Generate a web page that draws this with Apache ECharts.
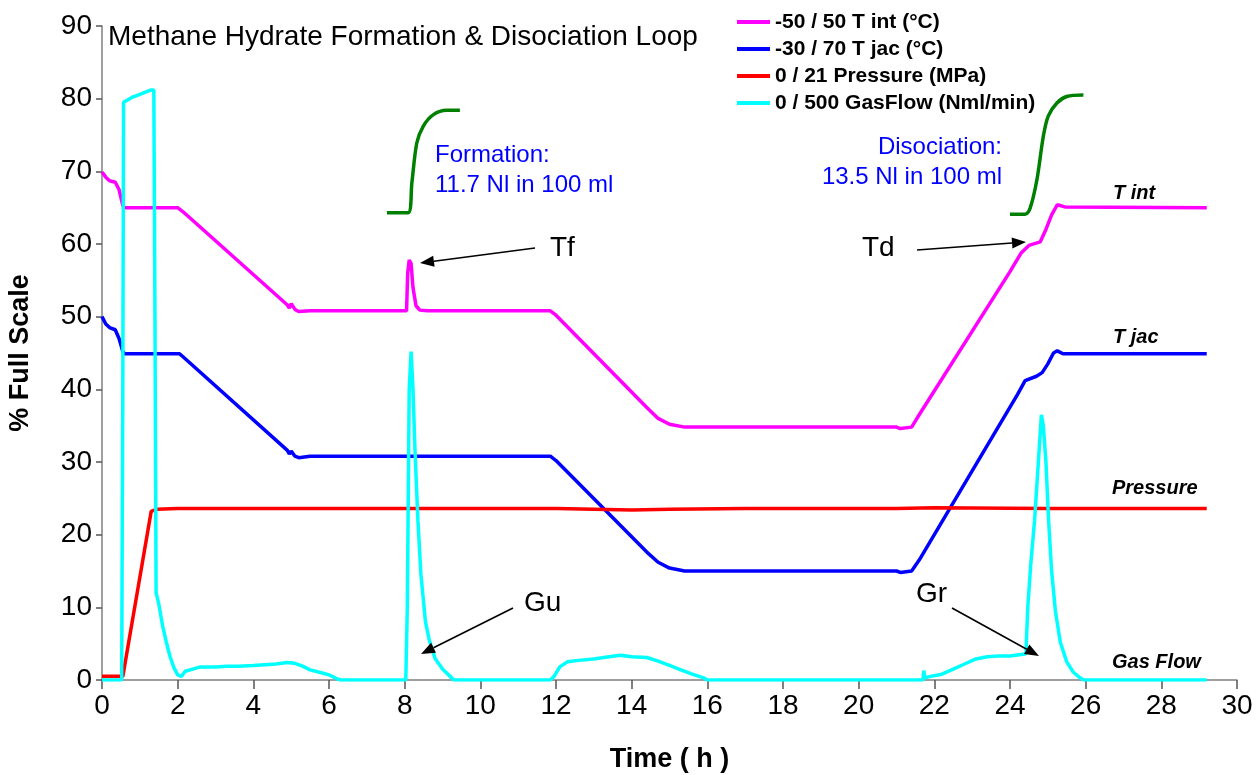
<!DOCTYPE html>
<html>
<head>
<meta charset="utf-8">
<script src="https://cdn.jsdelivr.net/npm/echarts@6/dist/echarts.min.js"></script>
<style>
html,body{margin:0;padding:0;background:#fff;}
#chart{width:1260px;height:775px;}
</style>
</head>
<body>
<div id="chart"></div>
<script>
// ---- data (time in h, value in % full scale) ----
const seriesNames = ['-50 / 50 T int (°C)', '-30 / 70 T jac (°C)', '0 / 21 Pressure (MPa)', '0 / 500 GasFlow (Nml/min)'];

const tInt = [[0,69.9],[0.1,69.2],[0.2,68.7],[0.35,68.5],[0.45,67.5],[0.55,65.3],[0.6,65.0],[2.0,65.0],[2.15,64.4],[4.9,51.6],[4.95,51.2],[5.0,51.8],[5.1,51.0],[5.2,50.7],[5.5,50.8],[8.05,50.8],[8.08,56],[8.12,57.8],[8.17,57.3],[8.22,54],[8.3,51.5],[8.4,50.9],[8.6,50.8],[11.85,50.8],[12.0,50.2],[14.4,37.5],[14.7,36.0],[15.0,35.2],[15.4,34.8],[21.0,34.8],[21.1,34.6],[21.4,34.8],[21.6,36.5],[24.0,56.2],[24.3,58.8],[24.5,59.8],[24.8,60.3],[24.95,62],[25.1,64],[25.25,65.4],[25.45,65.1],[29.2,65.0]];

const tJac = [[0,50],[0.1,49],[0.2,48.5],[0.35,48.2],[0.45,47],[0.55,45.2],[0.6,44.9],[2.05,44.9],[2.2,44.2],[4.9,31.6],[4.95,31.1],[5.0,31.5],[5.1,30.8],[5.2,30.6],[5.5,30.8],[11.85,30.8],[12.0,30.2],[14.4,17.6],[14.7,16.2],[15.0,15.4],[15.4,15.0],[21.0,15.0],[21.1,14.8],[21.4,15.0],[21.6,16.5],[24.2,39.3],[24.4,41.2],[24.7,41.8],[24.85,42.3],[25.0,43.5],[25.15,45.0],[25.25,45.3],[25.4,44.9],[29.2,44.9]];

const pressure = [[0,0.5],[0.55,0.5],[0.6,0.6],[1.3,23.2],[1.45,23.5],[2,23.6],[6,23.6],[10,23.6],[12,23.6],[13,23.5],[14,23.4],[15,23.5],[17,23.6],[21,23.6],[22,23.7],[25,23.6],[29.2,23.6]];

const gasFlow = [[0,0],[0.52,0],[0.55,40],[0.57,79.5],[0.7,79.9],[0.8,80.2],[0.9,80.4],[1.0,80.6],[1.1,80.8],[1.2,81.0],[1.3,81.2],[1.37,81.2],[1.4,50],[1.43,12],[1.5,10.5],[1.6,7.5],[1.7,5.2],[1.8,3.2],[1.9,1.7],[2.0,0.7],[2.1,0.5],[2.2,1.2],[2.4,1.5],[2.6,1.8],[3.0,1.8],[3.3,1.9],[3.6,1.9],[4.0,2.0],[4.3,2.1],[4.6,2.2],[4.9,2.4],[5.1,2.3],[5.3,1.9],[5.5,1.4],[5.8,1.0],[6.0,0.7],[6.2,0.2],[6.3,0],[8.03,0],[8.07,10],[8.12,40],[8.17,45.2],[8.22,40],[8.27,32],[8.35,22],[8.43,14.5],[8.55,8],[8.65,5.5],[8.8,3],[9.0,1.5],[9.2,0.5],[9.3,0],[11.85,0],[11.95,0.5],[12.1,1.8],[12.3,2.5],[12.6,2.7],[13.0,2.9],[13.4,3.2],[13.7,3.4],[14.0,3.2],[14.4,3.1],[14.7,2.6],[15.0,2.0],[15.3,1.4],[15.6,0.8],[15.9,0.3],[16.0,0],[21.7,0],[21.72,1.3],[21.75,0.3],[21.9,0.5],[22.2,0.8],[22.5,1.5],[22.8,2.2],[23.1,2.9],[23.4,3.2],[23.7,3.3],[24.0,3.3],[24.3,3.5],[24.42,3.6],[24.47,10],[24.55,16],[24.65,22],[24.75,30],[24.83,36.5],[24.88,35],[24.95,30],[25.02,22],[25.1,15],[25.2,9.5],[25.33,5.2],[25.5,2.5],[25.67,1.1],[25.85,0.3],[25.95,0],[29.2,0]];

// uptake / release curves (sketch insets)
const formationCurve = [[7.53,64.3],[8.09,64.3],[8.19,68.4],[8.32,73.9],[8.49,76.2],[8.76,77.8],[9.11,78.4],[9.46,78.4]];
const disociationCurve = [[24.0,64.1],[24.40,64.1],[24.53,64.9],[24.71,68.8],[24.88,74.8],[25.01,77.6],[25.24,79.4],[25.50,80.3],[25.94,80.5]];

const xTicks = {min:0, max:30, interval:2};
const yTicks = {min:0, max:90, interval:10};

// ---- chart ----
const FONT = 'Liberation Sans, Arial, sans-serif';
const chart = echarts.init(document.getElementById('chart'), null, {renderer:'canvas'});

function lineSeries(name, data, color, z){
  return {name, type:'line', data, showSymbol:false, symbol:'none', z,
    color, lineStyle:{color, width:3.5}, itemStyle:{color}, animation:false};
}

function arrow(x1,y1,x2,y2){
  const ang = Math.atan2(y2-y1, x2-x1);
  const L = 14, W = 5.5;
  const bx = x2 - L*Math.cos(ang), by = y2 - L*Math.sin(ang);
  const px = -Math.sin(ang)*W, py = Math.cos(ang)*W;
  return [
    {type:'line', shape:{x1,y1,x2:bx,y2:by}, style:{stroke:'#000', lineWidth:1.6}, z:100},
    {type:'polygon', shape:{points:[[x2,y2],[bx+px,by+py],[bx-px,by-py]]}, style:{fill:'#000'}, z:100}
  ];
}

function txt(x,y,text,opt){
  return Object.assign({type:'text', x, y, z:100, style:Object.assign({text, fontFamily:FONT, fill:'#000', verticalAlign:'middle'}, opt||{})});
}

const graphics = [
  txt(108, 37, 'Methane Hydrate Formation & Disociation Loop', {fontSize:28}),
  txt(435, 155, 'Formation:', {fontSize:24, fill:'#0000ff'}),
  txt(435, 185, '11.7 Nl in 100 ml', {fontSize:24, fill:'#0000ff'}),
  txt(1002, 147, 'Disociation:', {fontSize:24, fill:'#0000ff', align:'right'}),
  txt(1002, 177, '13.5 Nl in 100 ml', {fontSize:24, fill:'#0000ff', align:'right'}),
  txt(550, 248, 'Tf', {fontSize:28}),
  txt(862, 248, 'Td', {fontSize:28}),
  txt(524, 603, 'Gu', {fontSize:28}),
  txt(916, 594, 'Gr', {fontSize:28}),
  txt(1113, 193, 'T int', {fontSize:20, fontWeight:'bold', fontStyle:'italic'}),
  txt(1113, 337, 'T jac', {fontSize:20, fontWeight:'bold', fontStyle:'italic'}),
  txt(1112, 488, 'Pressure', {fontSize:20, fontWeight:'bold', fontStyle:'italic'}),
  txt(1112, 662, 'Gas Flow', {fontSize:20, fontWeight:'bold', fontStyle:'italic'})
].concat(arrow(535,248,420,263), arrow(917,250,1026,242), arrow(513,608,421,654), arrow(952,608,1039,656));

const option = {
  animation:false,
  backgroundColor:'#fff',
  grid:{left:102, right:23, top:26, bottom:95, containLabel:false, outerBoundsMode:'none'},
  legend:{
    data:seriesNames, orient:'vertical', left:732, top:4, itemWidth:33, itemHeight:4, itemGap:1,
    icon:'rect', selectedMode:false,
    textStyle:{fontSize:21, fontWeight:'bold', color:'#000', fontFamily:FONT, lineHeight:26}
  },
  xAxis:{
    type:'value', min:xTicks.min, max:xTicks.max, interval:xTicks.interval,
    axisLine:{show:true, lineStyle:{color:'#808080', width:1.5}},
    axisTick:{show:true, length:9, lineStyle:{color:'#555', width:1.5}},
    splitLine:{show:false},
    axisLabel:{fontSize:28, color:'#000', fontFamily:FONT, margin:12},
    name:'Time ( h )', nameLocation:'middle', nameGap:66,
    nameTextStyle:{fontSize:27, fontWeight:'bold', color:'#000', fontFamily:FONT}
  },
  yAxis:{
    type:'value', min:yTicks.min, max:yTicks.max, interval:yTicks.interval,
    axisLine:{show:true, lineStyle:{color:'#808080', width:1.5}},
    axisTick:{show:true, length:6, lineStyle:{color:'#555', width:1.5}},
    splitLine:{show:false},
    axisLabel:{fontSize:28, color:'#000', fontFamily:FONT, margin:10},
    name:'% Full Scale', nameLocation:'middle', nameGap:68, nameRotate:90,
    nameTextStyle:{fontSize:27, fontWeight:'bold', color:'#000', fontFamily:FONT}
  },
  graphic:graphics,
  series:[
    lineSeries(seriesNames[0], tInt, '#ff00ff', 2),
    lineSeries(seriesNames[1], tJac, '#0000ff', 3),
    lineSeries(seriesNames[2], pressure, '#ff0000', 4),
    lineSeries(seriesNames[3], gasFlow, '#00ffff', 5),
    Object.assign(lineSeries('formationCurve', formationCurve, '#008000', 6), {smooth:0.3}),
    Object.assign(lineSeries('disociationCurve', disociationCurve, '#008000', 6), {smooth:0.3})
  ]
};
chart.setOption(option);
</script>
</body>
</html>
